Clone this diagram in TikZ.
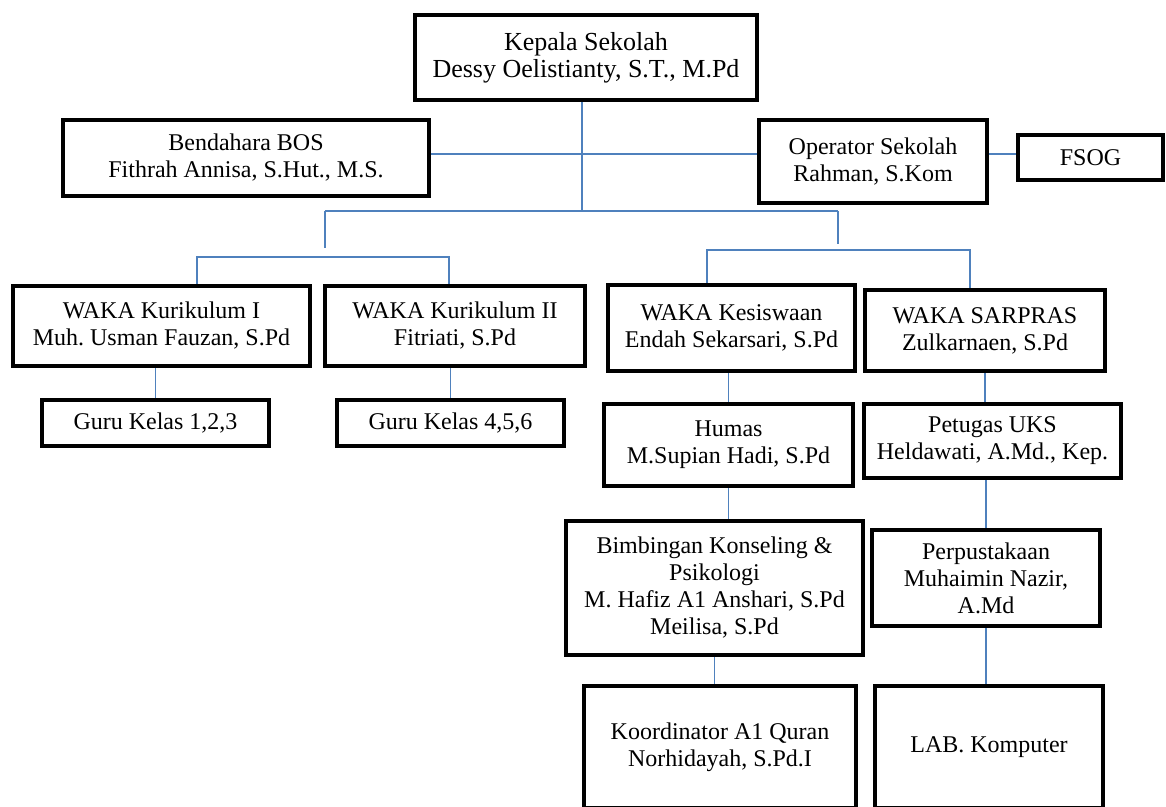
\documentclass[tikz,border=0pt]{standalone}
\usepackage{fontspec}
\setmainfont{Liberation Serif}
\definecolor{connblue}{HTML}{4F81BD}
\frenchspacing
\begin{document}
\begin{tikzpicture}[x=1pt,y=-1pt,
  box/.style={draw=black, line width=4pt, fill=white, inner sep=0pt, align=center,
    font=\fontsize{24}{27}\selectfont\frenchspacing},
  conn/.style={draw=connblue, line width=1.4pt}]
\useasboundingbox (0,0) rectangle (1166,806);
% nodes
\node[box, minimum width=342, minimum height=85, font=\fontsize{26}{27}\selectfont\frenchspacing] (kepala) at (586,57.5) {Kepala Sekolah\\Dessy Oelistianty, S.T., M.Pd};
\node[box, minimum width=366, minimum height=76] (bendahara) at (246,158) {Bendahara BOS\\Fithrah Annisa, S.Hut., M.S.};
\node[box, minimum width=228, minimum height=83] (operator) at (873,161.5) {Operator Sekolah\\Rahman, S.Kom};
\node[box, minimum width=145, minimum height=45] (fsog) at (1090.5,157.5) {FSOG};
\node[box, minimum width=297, minimum height=80] (wk1) at (161.5,326) {WAKA Kurikulum I\\Muh. Usman Fauzan, S.Pd};
\node[box, minimum width=260, minimum height=80] (wk2) at (455,326) {WAKA Kurikulum II\\Fitriati, S.Pd};
\node[box, minimum width=247, minimum height=86] (wkes) at (731.5,328) {WAKA Kesiswaan\\Endah Sekarsari, S.Pd};
\node[box, minimum width=240, minimum height=81] (wsar) at (985,330.5) {WAKA SARPRAS\\Zulkarnaen, S.Pd};
\node[box, minimum width=227, minimum height=46] (guru1) at (155.5,423) {Guru Kelas 1,2,3};
\node[box, minimum width=227, minimum height=46] (guru2) at (450.5,423) {Guru Kelas 4,5,6};
\node[box, minimum width=249, minimum height=82] (humas) at (728.5,445) {Humas\\M.Supian Hadi, S.Pd};
\node[box, minimum width=257, minimum height=74] (uks) at (992.5,441) {Petugas UKS\\Heldawati, A.Md., Kep.};
\node[box, minimum width=297, minimum height=134] (bk) at (714.5,588) {Bimbingan Konseling \&\\Psikologi\\M. Hafiz A1 Anshari, S.Pd\\Meilisa, S.Pd};
\node[box, minimum width=228, minimum height=96] (perp) at (986,578) {Perpustakaan\\Muhaimin Nazir,\\A.Md};
\node[box, minimum width=272, minimum height=122] (koord) at (720,747) {Koordinator A1 Quran\\Norhidayah, S.Pd.I};
\node[box, minimum width=228, minimum height=122] (lab) at (989,747) {LAB. Komputer};
% junction coordinates
\coordinate (j0) at (582,211);
\coordinate (jl) at (325,211);
\coordinate (jr) at (838,211);
\coordinate (jld) at (325,248);
\coordinate (jrd) at (838,244);
\coordinate (sl) at (197,257);
\coordinate (sr) at (449,257);
\coordinate (tl) at (707,250);
\coordinate (tr) at (970,250);
\coordinate (hy) at (0,154);
% connectors
\draw[conn] (kepala.south -| j0) -- (j0);
\draw[conn] (jl) -- (jr);
\draw[conn] (jl) -- (jld);
\draw[conn] (jr) -- (jrd);
\draw[conn] (wk1.north -| sl) -- (sl) -- (sr) -- (wk2.north -| sr);
\draw[conn] (wkes.north -| tl) -- (tl) -- (tr) -- (wsar.north -| tr);
\draw[conn] (bendahara.east |- hy) -- (operator.west |- hy);
\draw[conn] (operator.east |- hy) -- (fsog.west |- hy);
\draw[conn] (wk1.south -| guru1.north) -- (guru1.north);
\draw[conn] (wk2.south -| guru2.north) -- (guru2.north);
\draw[conn] (wsar.south) -- (wsar.south |- uks.north);
\draw[conn] (wkes.south -| humas.north) -- (humas.north);
\draw[conn] (humas.south) -- (humas.south |- bk.north);
\draw[conn] (perp.north |- uks.south) -- (perp.north);
\draw[conn] (bk.south) -- (bk.south |- koord.north);
\draw[conn] (perp.south) -- (perp.south |- lab.north);
\end{tikzpicture}
\end{document}
